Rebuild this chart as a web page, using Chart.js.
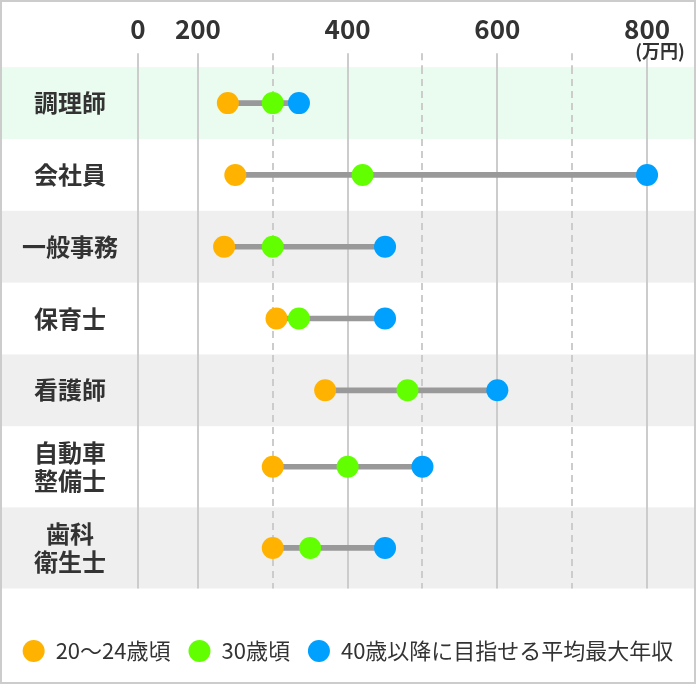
<!DOCTYPE html>
<html>
<head>
<meta charset="utf-8">
<script src="https://cdn.jsdelivr.net/npm/chart.js@4.4.0/dist/chart.umd.min.js"></script>
<style>
	html, body { margin: 0; padding: 0; background: #fff; }
	#wrap { width: 696px; height: 684px; box-sizing: border-box; border: 2px solid #ccc; }
	canvas { display: block; }
</style>
</head>
<body>
<div id="wrap"><canvas id="salary-chart" width="692" height="680"></canvas></div>
<script>
// data
const jobs = ["調理師", "会社員", "一般事務", "保育士", "看護師", ["自動車", "整備士"], ["歯科", "衛生士"]];
const age20to24 = [240, 250, 235, 305, 370, 300, 300];
const age30 = [300, 420, 300, 335, 480, 400, 350];
const age40plus = [335, 800, 450, 450, 600, 500, 450];
const seriesNames = ["20～24歳頃", "30歳頃", "40歳以降に目指せる平均最大年収"];
const tickValues = [0, 200, 300, 400, 500, 600, 700, 800];
const tickLabels = ["0", "200", "", "400", "", "600", "", "800"];
const unitLabel = "(万円)";

// 0-200 is squeezed, like the original
const AXIS_BREAK = 200;
const BREAK_RATIO = 0.4;

class BrokenScale extends Chart.LinearScale {
	static id = "broken";
	static defaults = Chart.LinearScale.defaults;
	squash(v) {
		return v < AXIS_BREAK ? AXIS_BREAK - (AXIS_BREAK - v) * BREAK_RATIO : v;
	}
	getPixelForValue(value) {
		const lo = this.squash(this.min), hi = this.squash(this.max);
		return this.getPixelForDecimal((this.squash(value) - lo) / (hi - lo));
	}
}

// rows with two-line labels get a bit more room
class RowScale extends Chart.CategoryScale {
	static id = "rows";
	static defaults = Chart.CategoryScale.defaults;
	rowEdges() {
		const w = this.getLabels().map((l) => (Array.isArray(l) ? 1.13 : 1));
		const total = w.reduce((a, b) => a + b, 0);
		let acc = 0;
		return w.map((x) => {
			const e = [acc / total, (acc + x) / total];
			acc += x;
			return e;
		});
	}
	getPixelForValue(value) {
		if (typeof value !== "number") value = this.parse(value);
		if (value === null || isNaN(value)) return NaN;
		const e = this.rowEdges()[Math.round(value)];
		if (!e) return super.getPixelForValue(value);
		return this.getPixelForDecimal((e[0] + e[1]) / 2);
	}
}

Chart.register(BrokenScale, RowScale);

const rowBands = {
	id: "rowBands",
	beforeDraw(chart) {
		const { ctx, scales: { y } } = chart;
		y.rowEdges().forEach((e, i) => {
			const fill = i === 0 ? "#e9fcef" : i % 2 === 0 ? "#efefef" : null;
			if (!fill) return;
			const top = y.getPixelForDecimal(e[0]);
			const bottom = y.getPixelForDecimal(e[1]);
			ctx.fillStyle = fill;
			ctx.fillRect(0, top, chart.width, bottom - top);
		});
	},
	afterDraw(chart) {
		const { ctx, chartArea, scales: { x } } = chart;
		ctx.save();
		ctx.font = 'bold 18px "Noto Sans CJK JP"';
		ctx.fillStyle = "#333";
		ctx.textAlign = "center";
		ctx.textBaseline = "middle";
		ctx.fillText(unitLabel, x.getPixelForValue(800) + 13, chartArea.top - 16);
		ctx.restore();
	},
};

Chart.defaults.font.family = '"Noto Sans CJK JP", "Noto Sans", sans-serif';
Chart.defaults.color = "#333";

const isDashed = (ctx) => tickLabels[ctx.index] === "";

const dotSet = (label, data, color) => ({
	type: "line",
	label: label,
	data: data,
	showLine: false,
	backgroundColor: color,
	borderColor: color,
	borderWidth: 0,
	pointRadius: 11,
	pointHoverRadius: 11,
	pointBorderWidth: 0,
	pointBackgroundColor: color,
	clip: false,
	order: 0,
});

new Chart(document.getElementById("salary-chart"), {
	type: "bar",
	data: {
		labels: jobs,
		datasets: [
			{
				label: "range",
				data: jobs.map((_, i) => [
					Math.min(age20to24[i], age30[i], age40plus[i]),
					Math.max(age20to24[i], age30[i], age40plus[i]),
				]),
				backgroundColor: "#999999",
				borderWidth: 0,
				barThickness: 5,
				order: 1,
			},
			dotSet(seriesNames[0], age20to24, "#ffb300"),
			dotSet(seriesNames[1], age30, "#62ff00"),
			dotSet(seriesNames[2], age40plus, "#00a0ff"),
		],
	},
	options: {
		indexAxis: "y",
		responsive: false,
		animation: false,
		events: [],
		layout: { padding: { top: 4, right: 0, bottom: 10, left: 0 } },
		scales: {
			x: {
				type: "broken",
				position: "top",
				min: 0,
				max: 848,
				afterBuildTicks: (s) => {
					s.ticks = tickValues.map((v) => ({ value: v }));
				},
				ticks: {
					callback: (v, i) => tickLabels[i],
					autoSkip: false,
					maxRotation: 0,
					padding: 8,
					color: "#333",
					font: { size: 26, weight: "bold" },
				},
				grid: {
					color: "#cccccc",
					lineWidth: 2,
					tickLength: 14,
					tickColor: "#cccccc",
					tickWidth: 2,
					tickBorderDash: (ctx) => (isDashed(ctx) ? [7, 5] : []),
				},
				border: {
					display: false,
					dash: (ctx) => (isDashed(ctx) ? [7, 5] : []),
				},
			},
			y: {
				type: "rows",
				afterFit: (s) => {
					s.width = 136;
				},
				grid: { display: false, drawTicks: false },
				border: { display: false },
				ticks: {
					crossAlign: "center",
					padding: 20,
					color: "#333",
					font: { size: 24, weight: "bold", lineHeight: 1.2 },
				},
			},
		},
		plugins: {
			tooltip: { enabled: false },
			legend: {
				position: "bottom",
				title: { display: true, text: "", padding: { top: 21.5, bottom: 0 }, font: { size: 10 } },
				labels: {
					filter: (item) => item.datasetIndex > 0,
					usePointStyle: true,
					pointStyle: "circle",
					boxHeight: 15.5,
					pointStyleWidth: 22,
					padding: 18,
					color: "#333",
					font: { size: 22 },
				},
			},
		},
	},
	plugins: [rowBands],
});
</script>
</body>
</html>
